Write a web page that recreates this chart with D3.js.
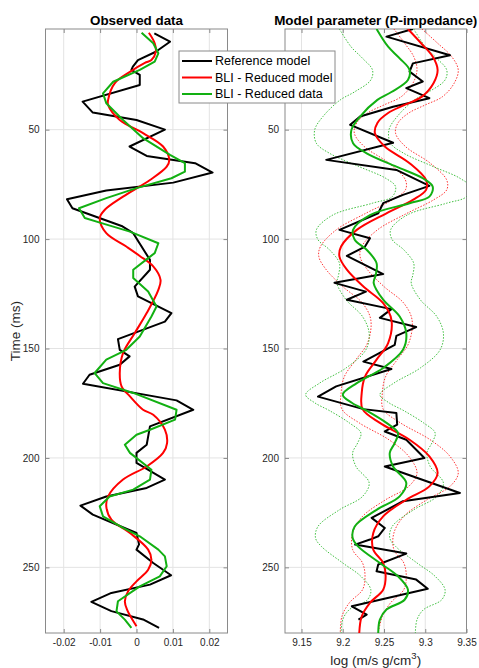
<!DOCTYPE html>
<html><head><meta charset="utf-8">
<script src="https://cdn.jsdelivr.net/npm/d3@7"></script>
<style>body{margin:0;background:#fff}svg{display:block}text{font-family:"Liberation Sans",Arial,Helvetica,sans-serif}</style>
</head><body><svg id="c" width="479" height="668"></svg>
<script>
// ---------- DATA ----------
const titles = ["Observed data", "Model parameter (P-impedance)"];
const legendLabels = ["Reference model", "BLI - Reduced model", "BLI - Reduced data"];
const yTicks = [50, 100, 150, 200, 250];
const xTicksObs = [-0.02, -0.01, 0, 0.01, 0.02];
const xTicksImp = [9.15, 9.2, 9.25, 9.3, 9.35];

// Observed data panel: time (ms), amplitude
const obsRefT = [6,9.8,14.4,18.2,21.2,22.7,25,29.6,37.2,42.2,45.6,50,57.7,62,65.3,69.6,74.2,77.8,81.8,85.9,94,97.3,109.5,114,121.7,126.2,133.8,137.7,145.7,150.6,153.6,157.4,162,166.1,173.7,178,185.6,194,197.7,202.3,209.9,213.7,217.6,221.8,225.9,234.3,239.5,241.9,248,253.6,257.9,261.7,265.8,270,273.8,277.7];
const obsRefV = [0.0049,0.0092,0.0053,0.0004,-0.0010,-0.0014,0.0009,0.0009,-0.0148,-0.0120,0.0000,0.0078,-0.0019,0.0028,0.0161,0.0209,0.0101,-0.0083,-0.0191,-0.0176,-0.0041,-0.0009,0.0037,0.0037,-0.0005,0.0004,0.0096,0.0078,-0.0051,-0.0046,-0.0019,-0.0046,-0.0129,-0.0147,0.0110,0.0156,0.0037,0.0028,0.0000,0.0000,0.0078,0.0028,-0.0083,-0.0154,-0.0120,0.0000,0.0007,0.0000,0.0046,0.0095,0.0037,-0.0069,-0.0124,-0.0069,0.0018,0.0062];
const obsModT = [5.7,10.5,14.4,18.2,19.5,23.6,28.8,36.4,38.7,45.6,51.6,57.7,63.8,66.9,73,80.6,86.6,90.4,97.3,103.4,107.7,112.5,118.6,123.2,133.8,143,152.1,161.2,167.3,171.9,178,180.3,187.1,193.2,197.7,203.9,209.9,217.6,222.1,228.2,234.3,241.9,246.5,251.1,256.4,260.9,265.5,269.3,276.9];
const obsModV = [0.0034,0.0050,0.0053,0.0041,0.0023,-0.0018,-0.0060,-0.0078,-0.0078,-0.0046,0.0018,0.0073,0.0090,0.0083,0.0037,-0.0037,-0.0087,-0.0101,-0.0083,-0.0028,0.0009,0.0046,0.0066,0.0060,0.0028,-0.0005,-0.0037,-0.0046,-0.0041,-0.0018,0.0018,0.0046,0.0078,0.0084,0.0073,0.0028,-0.0037,-0.0078,-0.0083,-0.0069,-0.0018,0.0032,0.0041,0.0032,0.0000,-0.0023,-0.0032,-0.0026,0.0000];
const obsDatT = [5.7,10.5,15.1,18.9,22.7,28.1,33.4,37.9,45.6,53.9,61.5,65.3,69.2,72.2,76.7,81.3,85.9,90.4,92.7,96.6,101.9,106.4,108.7,114,117.8,124,130.8,135.4,144.5,150.6,155.1,161.2,165.8,170.3,178,182.5,187.1,189.4,194,197.7,205.4,209.9,214.5,217.6,222.1,226.7,232,235.8,241.9,245,249.5,254.1,258.7,265.5,270.1,273.9,277.7];
const obsDatV = [0.0014,0.0046,0.0060,0.0050,0.0009,-0.0064,-0.0092,-0.0083,-0.0037,0.0018,0.0092,0.0133,0.0133,0.0096,0.0000,-0.0083,-0.0158,-0.0142,-0.0096,-0.0018,0.0060,0.0050,0.0032,-0.0009,-0.0009,0.0032,0.0055,0.0041,0.0009,-0.0028,-0.0083,-0.0115,-0.0092,-0.0009,0.0110,0.0106,0.0037,0.0000,-0.0032,-0.0018,0.0041,0.0037,-0.0009,-0.0074,-0.0101,-0.0092,-0.0037,0.0009,0.0060,0.0078,0.0083,0.0064,0.0009,-0.0051,-0.0055,-0.0032,-0.0014];

// Impedance panel: time (ms), log impedance
const impRefT = [4,7.5,16,19.7,23.5,28,31,35.6,39.5,44,47.8,56,63.8,68.4,75.7,79.8,83.6,88.2,95.8,99.6,103.4,107.7,116,120,124,127.7,132,136,140.2,144.2,148.3,156,159.4,167.3,172,177.7,179.5,184.8,187.9,191.7,200,203.9,216,219.8,227.4,232,235.8,237.3,239.6,243.7,248.7,251.8,255.6,259.8,267.8,271.6,273.9];
const impRefV = [9.285,9.253,9.330,9.285,9.281,9.297,9.277,9.305,9.261,9.221,9.209,9.261,9.180,9.265,9.305,9.273,9.249,9.243,9.196,9.233,9.227,9.205,9.249,9.190,9.228,9.205,9.259,9.245,9.289,9.265,9.263,9.225,9.259,9.192,9.170,9.225,9.265,9.266,9.251,9.277,9.299,9.251,9.342,9.273,9.235,9.251,9.243,9.233,9.215,9.277,9.243,9.241,9.289,9.303,9.211,9.229,9.219];
const impModT = [4,10.5,16.6,22.7,28.8,34.9,38.7,42.4,46.9,51.6,57.7,65.3,73,77.5,82.1,88.2,95.8,103.4,108,114,121.7,129.3,136.9,147.5,155.1,162.8,170.3,177.7,184,191.7,199.3,206.9,213,219.1,226.7,234.3,241.9,248,254.1,260.2,266.2,272.4,280];
const impModV = [9.279,9.295,9.309,9.315,9.310,9.296,9.275,9.255,9.242,9.239,9.251,9.281,9.301,9.301,9.285,9.253,9.217,9.198,9.196,9.205,9.225,9.249,9.259,9.255,9.241,9.227,9.223,9.224,9.245,9.281,9.305,9.315,9.305,9.277,9.249,9.237,9.237,9.249,9.252,9.249,9.233,9.223,9.220];
const impModLo = [9.262,9.275,9.286,9.290,9.285,9.271,9.250,9.230,9.217,9.214,9.226,9.256,9.276,9.276,9.260,9.228,9.192,9.173,9.171,9.180,9.200,9.224,9.234,9.230,9.216,9.202,9.198,9.199,9.220,9.256,9.280,9.290,9.280,9.252,9.224,9.212,9.212,9.224,9.227,9.224,9.208,9.199,9.197];
const impModHi = [9.296,9.315,9.332,9.340,9.335,9.321,9.300,9.280,9.267,9.264,9.276,9.306,9.326,9.326,9.310,9.278,9.242,9.223,9.221,9.230,9.250,9.274,9.284,9.280,9.266,9.252,9.248,9.249,9.270,9.306,9.330,9.340,9.330,9.302,9.274,9.262,9.262,9.274,9.277,9.274,9.258,9.248,9.243];
const impDatT = [4,12.1,17.4,22.7,27.3,32.8,36.4,44,50.1,56.2,60.8,66.9,72.2,76,80.6,83.6,89,95.8,100.3,104.9,111,116.3,120.1,127.7,135.4,143,150.6,158.9,165.8,171.1,174.8,178.4,184,188.6,193.2,197.7,203.9,211.4,217.6,223.7,231.3,236.6,240.4,248,254.1,260.2,264.8,269.3,273.9,280];
const impDatV = [9.241,9.255,9.269,9.281,9.279,9.259,9.242,9.221,9.2105,9.2125,9.229,9.265,9.297,9.309,9.305,9.281,9.233,9.2125,9.2145,9.229,9.241,9.240,9.2375,9.249,9.269,9.277,9.273,9.249,9.217,9.200,9.211,9.229,9.253,9.267,9.263,9.257,9.261,9.277,9.269,9.241,9.2145,9.212,9.2185,9.245,9.267,9.279,9.275,9.253,9.245,9.243];
const impDatLo = [9.196,9.210,9.224,9.236,9.234,9.214,9.197,9.176,9.166,9.168,9.184,9.220,9.252,9.264,9.260,9.236,9.188,9.168,9.170,9.184,9.196,9.195,9.193,9.204,9.224,9.232,9.228,9.204,9.172,9.155,9.166,9.184,9.208,9.222,9.218,9.212,9.216,9.232,9.224,9.196,9.170,9.167,9.174,9.200,9.222,9.234,9.230,9.208,9.200,9.198];
const impDatHi = [9.286,9.300,9.314,9.326,9.324,9.304,9.287,9.266,9.256,9.258,9.274,9.310,9.342,9.354,9.350,9.326,9.278,9.258,9.260,9.274,9.286,9.285,9.283,9.294,9.314,9.322,9.318,9.294,9.262,9.245,9.256,9.274,9.298,9.312,9.308,9.302,9.306,9.322,9.314,9.286,9.260,9.257,9.264,9.290,9.312,9.324,9.320,9.298,9.290,9.288];

// ---------- DRAW ----------
const svg = d3.select("#c");
const yTop = 29, yBot = 633;
const y = d3.scaleLinear().domain([4, 280]).range([yTop, yBot]);
const xL = d3.scaleLinear().domain([-0.025, 0.025]).range([45.5, 227.5]);
const xR = d3.scaleLinear().domain([9.13, 9.35]).range([285, 466.5]);
const C = {black: "#000000", red: "#ff0000", green: "#12b012", grid: "#e3e3e3", axis: "#8a8a8a", tick: "#262626"};

function zip(t, v) { return t.map((d, i) => [d, v[i]]); }

function panel(x, xTicks, id, title) {
  const g = svg.append("g");
  const [x0, x1] = x.range();
  g.append("clipPath").attr("id", id).append("rect").attr("x", x0).attr("y", yTop).attr("width", x1 - x0).attr("height", yBot - yTop);
  g.selectAll(".gx").data(xTicks).join("line").attr("x1", d => x(d)).attr("x2", d => x(d)).attr("y1", yTop).attr("y2", yBot).attr("stroke", C.grid).attr("stroke-width", 1);
  g.selectAll(".gy").data(yTicks).join("line").attr("y1", d => y(d)).attr("y2", d => y(d)).attr("x1", x0).attr("x2", x1).attr("stroke", C.grid).attr("stroke-width", 1);
  const fmt = d => (d === 0 ? "0" : String(d));
  const ax = (sel) => { sel.select(".domain").remove(); sel.selectAll(".tick line").attr("stroke", C.axis); sel.selectAll("text").attr("fill", C.tick).style("font-size", "10px").style("font-family", "'Liberation Sans',Arial,sans-serif"); };
  g.append("g").attr("transform", `translate(0,${yBot})`).call(d3.axisBottom(x).tickValues(xTicks).tickSize(-4).tickPadding(6).tickFormat(fmt)).call(ax);
  g.append("g").attr("transform", `translate(0,${yTop})`).call(d3.axisTop(x).tickValues(xTicks).tickSize(-4).tickFormat("")).call(ax);
  g.append("g").attr("transform", `translate(${x0},0)`).call(d3.axisLeft(y).tickValues(yTicks).tickSize(-4).tickPadding(6)).call(ax);
  g.append("g").attr("transform", `translate(${x1},0)`).call(d3.axisRight(y).tickValues(yTicks).tickSize(-4).tickFormat("")).call(ax);
  g.append("rect").attr("x", x0).attr("y", yTop).attr("width", x1 - x0).attr("height", yBot - yTop).attr("fill", "none").attr("stroke", C.axis).attr("stroke-width", 1);
  g.append("text").attr("x", (x0 + x1) / 2).attr("y", 25).attr("text-anchor", "middle").style("font-size", "13.4px").style("font-weight", "bold").attr("fill", "#000").text(title);
  return g.append("g").attr("clip-path", `url(#${id})`);
}

function draw(plot, x, t, v, color, width, curve, dash) {
  const line = d3.line().x(d => x(d[1])).y(d => y(d[0])).curve(curve);
  plot.append("path").datum(zip(t, v)).attr("d", line).attr("fill", "none").attr("stroke", color).attr("stroke-width", width).attr("stroke-linejoin", "round").attr("stroke-dasharray", dash || null);
}

const pL = panel(xL, xTicksObs, "clipL", titles[0]);
draw(pL, xL, obsRefT, obsRefV, C.black, 2, d3.curveLinear);
draw(pL, xL, obsModT, obsModV, C.red, 2, d3.curveCatmullRom);
draw(pL, xL, obsDatT, obsDatV, C.green, 2, d3.curveLinear);

const pR = panel(xR, xTicksImp, "clipR", titles[1]);
draw(pR, xR, impModT, impModLo, C.red, 0.8, d3.curveCatmullRom, "1.5,1.5");
draw(pR, xR, impModT, impModHi, C.red, 0.8, d3.curveCatmullRom, "1.5,1.5");
draw(pR, xR, impDatT, impDatLo, C.green, 0.8, d3.curveCatmullRom, "1.5,1.5");
draw(pR, xR, impDatT, impDatHi, C.green, 0.8, d3.curveCatmullRom, "1.5,1.5");
draw(pR, xR, impRefT, impRefV, C.black, 2, d3.curveLinear);
draw(pR, xR, impModT, impModV, C.red, 2, d3.curveCatmullRom);
draw(pR, xR, impDatT, impDatV, C.green, 2, d3.curveCatmullRom);

svg.append("text").attr("transform", `translate(19.5,${(yTop + yBot) / 2}) rotate(-90)`).attr("text-anchor", "middle").style("font-size", "13.5px").attr("fill", C.tick).text("Time (ms)");
const xl = svg.append("text").attr("x", (285 + 466.5) / 2).attr("y", 664.5).attr("text-anchor", "middle").style("font-size", "13.5px").attr("fill", C.tick);
xl.append("tspan").text("log (m/s g/cm");
xl.append("tspan").attr("dy", -6).style("font-size", "9.5px").text("3");
xl.append("tspan").attr("dy", 6).text(")");

const lg = svg.append("g");
lg.append("rect").attr("x", 179).attr("y", 51).attr("width", 156).attr("height", 52).attr("fill", "#fff").attr("stroke", C.axis).attr("stroke-width", 1);
const lc = [C.black, C.red, C.green];
legendLabels.forEach((s, i) => {
  const yy = 61 + i * 16.5;
  lg.append("line").attr("x1", 182).attr("x2", 212).attr("y1", yy).attr("y2", yy).attr("stroke", lc[i]).attr("stroke-width", 2);
  lg.append("text").attr("x", 215).attr("y", yy + 4.3).style("font-size", "12.5px").attr("fill", "#000").text(s);
});
</script></body></html>
